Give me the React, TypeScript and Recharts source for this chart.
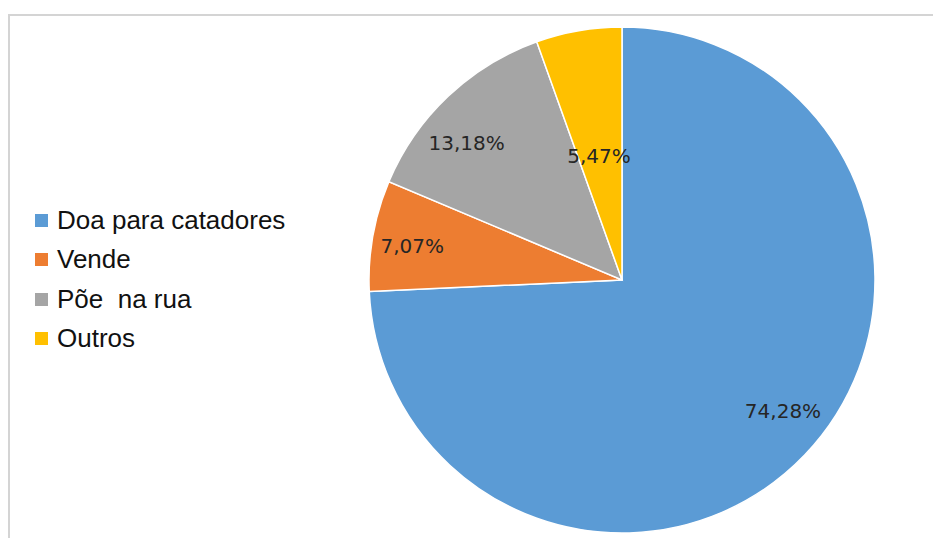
import React from "react";
import { PieChart, Pie, Cell, Legend } from "recharts";

const categories = ["Doa para catadores", "Vende", "Põe  na rua", "Outros"];
const values = [74.28, 7.07, 13.18, 5.47];
const valueLabels = ["74,28%", "7,07%", "13,18%", "5,47%"];
const colors = ["#5B9BD5", "#ED7D31", "#A5A5A5", "#FFC000"];
const labelRadiusFactors = [0.82, 0.84, 0.82, 0.5];
const labelAngleShifts = [4.6, 0.9, 5.1, 0.6];

const data = categories.map((name, i) => ({ name, value: values[i], label: valueLabels[i] }));

const RADIAN = Math.PI / 180;

const renderLabel = (props: any) => {
  const { cx, cy, midAngle, outerRadius, index } = props;
  const r = outerRadius * labelRadiusFactors[index];
  const a = midAngle + labelAngleShifts[index];
  const x = cx + r * Math.cos(-a * RADIAN);
  const y = cy + r * Math.sin(-a * RADIAN);
  return (
    <text
      x={x}
      y={y}
      fill="#262626"
      textAnchor="middle"
      dominantBaseline="central"
      style={{ fontFamily: "DejaVu Sans", fontSize: 20 }}
    >
      {valueLabels[index]}
    </text>
  );
};

const renderLegend = () => (
  <div style={{ fontFamily: "Liberation Sans, Arial, sans-serif", fontSize: 26, color: "#111" }}>
    {categories.map((c, i) => (
      <div key={c} style={{ height: 39.3, display: "flex", alignItems: "center", whiteSpace: "pre" }}>
        <span style={{ display: "inline-block", width: 13, height: 13, background: colors[i], marginRight: 9 }} />
        <span>{c}</span>
      </div>
    ))}
  </div>
);

export default function App() {
  return (
    <div style={{ position: "absolute", left: 0, top: 0, width: 933, height: 538, background: "#fff", overflow: "hidden" }}>
      <div
        style={{
          position: "absolute",
          left: 8,
          top: 14,
          width: 940,
          height: 540,
          borderTop: "2px solid #d4d4d4",
          borderLeft: "2px solid #d4d4d4",
        }}
      />
      <div style={{ position: "absolute", left: 0, top: 0 }}>
        <PieChart width={933} height={538} margin={{ top: 0, right: 0, bottom: 0, left: 0 }}>
          <Pie
            data={data}
            dataKey="value"
            cx={622}
            cy={280}
            outerRadius={253}
            startAngle={90}
            endAngle={-270}
            stroke="#fff"
            strokeWidth={1.5}
            label={renderLabel}
            labelLine={false}
            isAnimationActive={false}
          >
            {data.map((d, i) => (
              <Cell key={d.name} fill={colors[i]} />
            ))}
          </Pie>
          <Legend
            content={renderLegend}
            wrapperStyle={{ left: 35, top: 201, width: 300 }}
          />
        </PieChart>
      </div>
    </div>
  );
}
